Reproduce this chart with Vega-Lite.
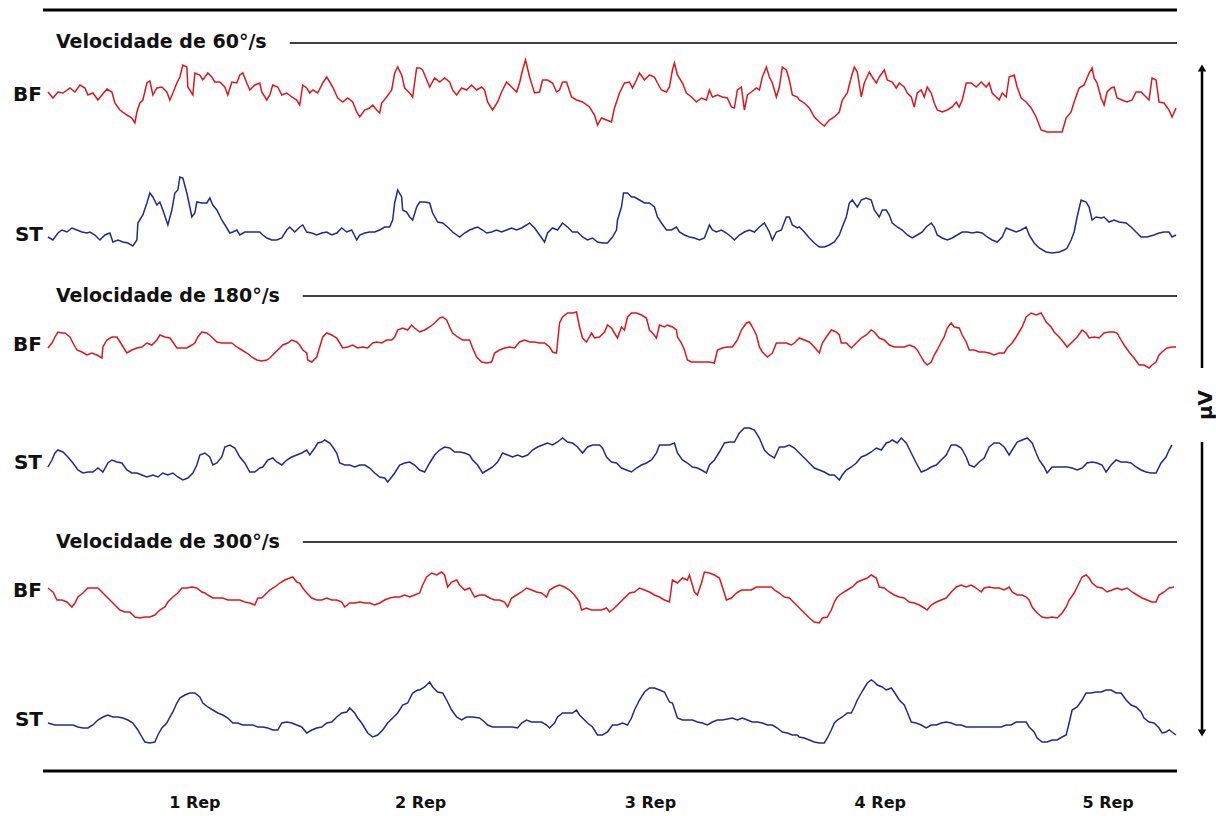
{
"$schema": "https://vega.github.io/schema/vega-lite/v6.json",
"width": 1216, "height": 816,
"autosize": {"type": "fit", "contains": "padding"},
"padding": 0,
"background": "white",
"config": {"view": {"stroke": null}},
"datasets": {
"bf60": [{"t":48,"v":92},{"t":53,"v":98},{"t":58,"v":92},{"t":63,"v":93},{"t":70,"v":88},{"t":75,"v":92},{"t":80,"v":85},{"t":85,"v":88},{"t":88,"v":95},{"t":93,"v":93},{"t":98,"v":100},{"t":102,"v":95},{"t":107,"v":89},{"t":112,"v":92},{"t":115,"v":103},{"t":120,"v":110},{"t":127,"v":115},{"t":132,"v":118},{"t":135,"v":123},{"t":137,"v":112},{"t":140,"v":103},{"t":143,"v":100},{"t":147,"v":83},{"t":150,"v":81},{"t":153,"v":95},{"t":157,"v":88},{"t":162,"v":87},{"t":167,"v":92},{"t":170,"v":100},{"t":173,"v":93},{"t":177,"v":83},{"t":180,"v":77},{"t":183,"v":65},{"t":187,"v":67},{"t":188,"v":87},{"t":193,"v":95},{"t":195,"v":73},{"t":200,"v":75},{"t":203,"v":80},{"t":208,"v":73},{"t":212,"v":77},{"t":215,"v":82},{"t":220,"v":82},{"t":225,"v":87},{"t":228,"v":95},{"t":232,"v":82},{"t":237,"v":83},{"t":240,"v":75},{"t":243,"v":73},{"t":247,"v":83},{"t":250,"v":90},{"t":255,"v":85},{"t":260,"v":83},{"t":262,"v":92},{"t":267,"v":100},{"t":270,"v":95},{"t":273,"v":85},{"t":278,"v":87},{"t":282,"v":95},{"t":287,"v":93},{"t":292,"v":97},{"t":297,"v":100},{"t":300,"v":105},{"t":303,"v":85},{"t":307,"v":88},{"t":310,"v":93},{"t":313,"v":90},{"t":318,"v":93},{"t":323,"v":83},{"t":327,"v":77},{"t":330,"v":82},{"t":333,"v":87},{"t":338,"v":98},{"t":343,"v":102},{"t":348,"v":98},{"t":353,"v":102},{"t":357,"v":112},{"t":360,"v":117},{"t":365,"v":110},{"t":370,"v":108},{"t":373,"v":105},{"t":377,"v":110},{"t":380,"v":113},{"t":382,"v":103},{"t":387,"v":97},{"t":392,"v":90},{"t":395,"v":73},{"t":398,"v":67},{"t":402,"v":75},{"t":405,"v":88},{"t":410,"v":93},{"t":413,"v":97},{"t":417,"v":68},{"t":420,"v":68},{"t":423,"v":70},{"t":430,"v":87},{"t":435,"v":78},{"t":440,"v":82},{"t":445,"v":78},{"t":450,"v":82},{"t":453,"v":90},{"t":457,"v":95},{"t":462,"v":88},{"t":467,"v":90},{"t":472,"v":85},{"t":477,"v":90},{"t":482,"v":87},{"t":485,"v":90},{"t":488,"v":102},{"t":493,"v":110},{"t":498,"v":102},{"t":502,"v":92},{"t":507,"v":82},{"t":512,"v":87},{"t":517,"v":92},{"t":520,"v":83},{"t":523,"v":70},{"t":526,"v":60},{"t":530,"v":77},{"t":535,"v":93},{"t":540,"v":92},{"t":543,"v":80},{"t":548,"v":80},{"t":553,"v":83},{"t":557,"v":92},{"t":560,"v":90},{"t":563,"v":82},{"t":567,"v":82},{"t":572,"v":97},{"t":577,"v":100},{"t":583,"v":102},{"t":590,"v":107},{"t":595,"v":115},{"t":598,"v":125},{"t":602,"v":118},{"t":607,"v":120},{"t":612,"v":122},{"t":615,"v":108},{"t":620,"v":93},{"t":625,"v":83},{"t":630,"v":82},{"t":633,"v":88},{"t":637,"v":80},{"t":640,"v":73},{"t":645,"v":80},{"t":650,"v":75},{"t":655,"v":77},{"t":658,"v":83},{"t":662,"v":90},{"t":667,"v":92},{"t":670,"v":87},{"t":673,"v":70},{"t":675,"v":63},{"t":678,"v":75},{"t":683,"v":83},{"t":687,"v":93},{"t":692,"v":97},{"t":697,"v":102},{"t":702,"v":98},{"t":707,"v":100},{"t":710,"v":90},{"t":713,"v":97},{"t":718,"v":95},{"t":723,"v":97},{"t":728,"v":98},{"t":732,"v":107},{"t":735,"v":108},{"t":738,"v":90},{"t":742,"v":87},{"t":745,"v":110},{"t":748,"v":95},{"t":752,"v":92},{"t":757,"v":88},{"t":760,"v":90},{"t":763,"v":77},{"t":767,"v":67},{"t":770,"v":77},{"t":773,"v":83},{"t":777,"v":97},{"t":780,"v":87},{"t":783,"v":67},{"t":787,"v":70},{"t":790,"v":80},{"t":793,"v":95},{"t":798,"v":97},{"t":800,"v":100},{"t":805,"v":103},{"t":810,"v":108},{"t":815,"v":117},{"t":820,"v":122},{"t":825,"v":126},{"t":830,"v":120},{"t":835,"v":117},{"t":840,"v":112},{"t":843,"v":100},{"t":848,"v":93},{"t":852,"v":77},{"t":855,"v":67},{"t":858,"v":72},{"t":862,"v":97},{"t":865,"v":83},{"t":870,"v":72},{"t":873,"v":77},{"t":877,"v":83},{"t":880,"v":77},{"t":885,"v":70},{"t":888,"v":80},{"t":893,"v":82},{"t":897,"v":88},{"t":900,"v":83},{"t":905,"v":87},{"t":908,"v":93},{"t":912,"v":97},{"t":915,"v":107},{"t":918,"v":93},{"t":922,"v":90},{"t":925,"v":97},{"t":928,"v":87},{"t":932,"v":93},{"t":935,"v":103},{"t":938,"v":110},{"t":943,"v":112},{"t":948,"v":110},{"t":953,"v":107},{"t":957,"v":102},{"t":960,"v":107},{"t":963,"v":100},{"t":967,"v":83},{"t":972,"v":83},{"t":977,"v":87},{"t":982,"v":82},{"t":987,"v":87},{"t":990,"v":83},{"t":993,"v":93},{"t":997,"v":97},{"t":1000,"v":100},{"t":1003,"v":93},{"t":1007,"v":97},{"t":1010,"v":77},{"t":1015,"v":75},{"t":1018,"v":87},{"t":1022,"v":98},{"t":1027,"v":102},{"t":1032,"v":108},{"t":1037,"v":117},{"t":1042,"v":130},{"t":1048,"v":132},{"t":1057,"v":132},{"t":1063,"v":132},{"t":1067,"v":118},{"t":1072,"v":112},{"t":1075,"v":102},{"t":1080,"v":88},{"t":1085,"v":85},{"t":1090,"v":73},{"t":1093,"v":68},{"t":1095,"v":78},{"t":1098,"v":83},{"t":1102,"v":98},{"t":1105,"v":105},{"t":1108,"v":92},{"t":1112,"v":88},{"t":1115,"v":87},{"t":1118,"v":98},{"t":1123,"v":100},{"t":1128,"v":102},{"t":1133,"v":100},{"t":1137,"v":92},{"t":1142,"v":92},{"t":1147,"v":97},{"t":1150,"v":100},{"t":1153,"v":78},{"t":1157,"v":80},{"t":1160,"v":102},{"t":1165,"v":103},{"t":1170,"v":110},{"t":1173,"v":117},{"t":1177,"v":108}],
"st60": [{"t":48,"v":237},{"t":53,"v":240},{"t":58,"v":233},{"t":62,"v":230},{"t":67,"v":232},{"t":72,"v":228},{"t":77,"v":230},{"t":82,"v":232},{"t":87,"v":233},{"t":90,"v":232},{"t":95,"v":235},{"t":100,"v":240},{"t":105,"v":235},{"t":110,"v":233},{"t":113,"v":242},{"t":118,"v":240},{"t":123,"v":242},{"t":128,"v":243},{"t":133,"v":246},{"t":137,"v":240},{"t":138,"v":223},{"t":143,"v":215},{"t":147,"v":203},{"t":150,"v":193},{"t":153,"v":197},{"t":157,"v":205},{"t":160,"v":202},{"t":163,"v":210},{"t":168,"v":225},{"t":172,"v":210},{"t":175,"v":193},{"t":178,"v":190},{"t":180,"v":177},{"t":183,"v":178},{"t":187,"v":193},{"t":190,"v":207},{"t":192,"v":217},{"t":195,"v":213},{"t":197,"v":202},{"t":202,"v":203},{"t":207,"v":203},{"t":210,"v":198},{"t":213,"v":205},{"t":217,"v":210},{"t":222,"v":220},{"t":227,"v":228},{"t":230,"v":233},{"t":233,"v":232},{"t":237,"v":230},{"t":240,"v":235},{"t":245,"v":232},{"t":252,"v":232},{"t":260,"v":232},{"t":263,"v":235},{"t":267,"v":238},{"t":272,"v":240},{"t":277,"v":240},{"t":282,"v":238},{"t":287,"v":230},{"t":290,"v":227},{"t":295,"v":232},{"t":300,"v":227},{"t":303,"v":225},{"t":307,"v":232},{"t":312,"v":233},{"t":317,"v":235},{"t":322,"v":233},{"t":327,"v":232},{"t":332,"v":235},{"t":337,"v":233},{"t":342,"v":228},{"t":347,"v":232},{"t":352,"v":230},{"t":357,"v":240},{"t":360,"v":235},{"t":365,"v":233},{"t":370,"v":232},{"t":375,"v":232},{"t":380,"v":230},{"t":385,"v":227},{"t":390,"v":227},{"t":393,"v":220},{"t":395,"v":203},{"t":398,"v":190},{"t":402,"v":197},{"t":403,"v":210},{"t":407,"v":212},{"t":410,"v":217},{"t":413,"v":220},{"t":417,"v":207},{"t":420,"v":202},{"t":425,"v":202},{"t":430,"v":203},{"t":433,"v":213},{"t":438,"v":222},{"t":443,"v":223},{"t":448,"v":227},{"t":453,"v":232},{"t":460,"v":237},{"t":465,"v":233},{"t":470,"v":230},{"t":475,"v":228},{"t":478,"v":227},{"t":483,"v":230},{"t":487,"v":233},{"t":492,"v":232},{"t":497,"v":230},{"t":502,"v":232},{"t":507,"v":230},{"t":512,"v":228},{"t":517,"v":230},{"t":522,"v":228},{"t":527,"v":225},{"t":530,"v":223},{"t":535,"v":228},{"t":540,"v":235},{"t":545,"v":242},{"t":548,"v":233},{"t":553,"v":228},{"t":558,"v":230},{"t":563,"v":223},{"t":568,"v":227},{"t":573,"v":232},{"t":578,"v":232},{"t":583,"v":237},{"t":588,"v":240},{"t":593,"v":238},{"t":598,"v":242},{"t":603,"v":243},{"t":608,"v":243},{"t":613,"v":237},{"t":617,"v":230},{"t":618,"v":220},{"t":622,"v":207},{"t":624,"v":193},{"t":628,"v":193},{"t":632,"v":197},{"t":635,"v":197},{"t":640,"v":200},{"t":645,"v":203},{"t":650,"v":203},{"t":655,"v":207},{"t":658,"v":217},{"t":662,"v":223},{"t":667,"v":230},{"t":672,"v":230},{"t":677,"v":227},{"t":680,"v":232},{"t":685,"v":235},{"t":690,"v":237},{"t":695,"v":238},{"t":700,"v":240},{"t":705,"v":238},{"t":710,"v":225},{"t":713,"v":230},{"t":717,"v":232},{"t":722,"v":230},{"t":727,"v":233},{"t":732,"v":237},{"t":735,"v":240},{"t":740,"v":235},{"t":745,"v":232},{"t":750,"v":230},{"t":755,"v":232},{"t":760,"v":227},{"t":765,"v":223},{"t":770,"v":232},{"t":773,"v":240},{"t":777,"v":232},{"t":782,"v":230},{"t":787,"v":217},{"t":790,"v":217},{"t":793,"v":225},{"t":798,"v":228},{"t":800,"v":227},{"t":805,"v":232},{"t":810,"v":238},{"t":815,"v":243},{"t":820,"v":247},{"t":825,"v":247},{"t":830,"v":245},{"t":835,"v":242},{"t":840,"v":235},{"t":843,"v":227},{"t":847,"v":217},{"t":850,"v":203},{"t":853,"v":200},{"t":858,"v":207},{"t":862,"v":200},{"t":867,"v":198},{"t":872,"v":200},{"t":875,"v":210},{"t":880,"v":217},{"t":883,"v":210},{"t":887,"v":210},{"t":890,"v":215},{"t":893,"v":223},{"t":898,"v":227},{"t":903,"v":230},{"t":908,"v":235},{"t":913,"v":238},{"t":918,"v":235},{"t":923,"v":232},{"t":927,"v":227},{"t":932,"v":223},{"t":935,"v":227},{"t":938,"v":235},{"t":943,"v":238},{"t":948,"v":240},{"t":953,"v":238},{"t":958,"v":235},{"t":963,"v":232},{"t":968,"v":232},{"t":973,"v":233},{"t":978,"v":232},{"t":983,"v":233},{"t":988,"v":237},{"t":993,"v":240},{"t":998,"v":242},{"t":1003,"v":237},{"t":1007,"v":228},{"t":1012,"v":230},{"t":1017,"v":232},{"t":1022,"v":230},{"t":1027,"v":227},{"t":1030,"v":235},{"t":1035,"v":243},{"t":1040,"v":248},{"t":1047,"v":252},{"t":1053,"v":253},{"t":1060,"v":252},{"t":1065,"v":250},{"t":1068,"v":248},{"t":1072,"v":240},{"t":1075,"v":232},{"t":1078,"v":217},{"t":1082,"v":200},{"t":1087,"v":202},{"t":1090,"v":207},{"t":1093,"v":220},{"t":1097,"v":217},{"t":1102,"v":218},{"t":1105,"v":217},{"t":1110,"v":222},{"t":1115,"v":220},{"t":1120,"v":222},{"t":1127,"v":223},{"t":1132,"v":227},{"t":1137,"v":232},{"t":1142,"v":237},{"t":1148,"v":237},{"t":1155,"v":235},{"t":1160,"v":233},{"t":1165,"v":232},{"t":1170,"v":232},{"t":1173,"v":237},{"t":1177,"v":235}],
"bf180": [{"t":48,"v":348},{"t":52,"v":343},{"t":55,"v":337},{"t":58,"v":332},{"t":62,"v":333},{"t":65,"v":333},{"t":70,"v":337},{"t":73,"v":343},{"t":77,"v":350},{"t":82,"v":352},{"t":87,"v":355},{"t":92,"v":353},{"t":97,"v":355},{"t":102,"v":358},{"t":103,"v":347},{"t":107,"v":340},{"t":112,"v":337},{"t":117,"v":337},{"t":122,"v":345},{"t":127,"v":353},{"t":132,"v":350},{"t":137,"v":348},{"t":142,"v":347},{"t":147,"v":343},{"t":152,"v":345},{"t":157,"v":340},{"t":160,"v":335},{"t":165,"v":337},{"t":170,"v":338},{"t":173,"v":342},{"t":177,"v":348},{"t":182,"v":348},{"t":187,"v":348},{"t":192,"v":345},{"t":195,"v":343},{"t":198,"v":337},{"t":202,"v":332},{"t":207,"v":333},{"t":212,"v":337},{"t":217,"v":342},{"t":222,"v":343},{"t":227,"v":343},{"t":232,"v":343},{"t":237,"v":347},{"t":242,"v":350},{"t":247,"v":353},{"t":252,"v":357},{"t":257,"v":360},{"t":262,"v":361},{"t":267,"v":360},{"t":270,"v":358},{"t":273,"v":355},{"t":278,"v":350},{"t":283,"v":345},{"t":288,"v":343},{"t":292,"v":340},{"t":297,"v":342},{"t":300,"v":345},{"t":303,"v":350},{"t":307,"v":353},{"t":308,"v":360},{"t":312,"v":362},{"t":317,"v":357},{"t":320,"v":347},{"t":323,"v":337},{"t":327,"v":333},{"t":332,"v":335},{"t":337,"v":338},{"t":340,"v":343},{"t":343,"v":348},{"t":348,"v":347},{"t":353,"v":345},{"t":358,"v":348},{"t":363,"v":347},{"t":368,"v":348},{"t":373,"v":343},{"t":377,"v":342},{"t":382,"v":343},{"t":387,"v":340},{"t":392,"v":340},{"t":395,"v":337},{"t":398,"v":330},{"t":403,"v":328},{"t":408,"v":330},{"t":412,"v":325},{"t":415,"v":328},{"t":420,"v":332},{"t":425,"v":330},{"t":430,"v":327},{"t":435,"v":323},{"t":440,"v":318},{"t":443,"v":317},{"t":447,"v":320},{"t":450,"v":327},{"t":453,"v":333},{"t":458,"v":337},{"t":463,"v":340},{"t":470,"v":340},{"t":473,"v":348},{"t":477,"v":357},{"t":482,"v":362},{"t":487,"v":363},{"t":492,"v":362},{"t":495,"v":353},{"t":500,"v":350},{"t":505,"v":348},{"t":510,"v":347},{"t":515,"v":348},{"t":520,"v":342},{"t":525,"v":340},{"t":530,"v":342},{"t":535,"v":342},{"t":540,"v":343},{"t":545,"v":343},{"t":550,"v":347},{"t":553,"v":352},{"t":557,"v":353},{"t":560,"v":323},{"t":563,"v":317},{"t":568,"v":313},{"t":573,"v":313},{"t":577,"v":312},{"t":580,"v":327},{"t":583,"v":338},{"t":587,"v":342},{"t":592,"v":333},{"t":595,"v":338},{"t":600,"v":337},{"t":605,"v":332},{"t":608,"v":325},{"t":612,"v":328},{"t":615,"v":333},{"t":618,"v":338},{"t":622,"v":327},{"t":625,"v":330},{"t":628,"v":317},{"t":632,"v":313},{"t":637,"v":313},{"t":642,"v":315},{"t":647,"v":318},{"t":650,"v":330},{"t":653,"v":333},{"t":657,"v":338},{"t":660,"v":325},{"t":665,"v":327},{"t":668,"v":325},{"t":673,"v":327},{"t":677,"v":330},{"t":678,"v":337},{"t":682,"v":343},{"t":685,"v":350},{"t":688,"v":360},{"t":692,"v":362},{"t":697,"v":362},{"t":703,"v":362},{"t":710,"v":362},{"t":715,"v":363},{"t":718,"v":350},{"t":723,"v":348},{"t":728,"v":347},{"t":733,"v":347},{"t":738,"v":340},{"t":742,"v":330},{"t":747,"v":323},{"t":750,"v":322},{"t":753,"v":327},{"t":757,"v":335},{"t":760,"v":347},{"t":763,"v":352},{"t":768,"v":357},{"t":773,"v":353},{"t":777,"v":343},{"t":782,"v":343},{"t":787,"v":343},{"t":792,"v":345},{"t":795,"v":343},{"t":800,"v":338},{"t":805,"v":340},{"t":810,"v":342},{"t":815,"v":347},{"t":820,"v":353},{"t":823,"v":343},{"t":827,"v":337},{"t":832,"v":330},{"t":837,"v":332},{"t":840,"v":335},{"t":842,"v":343},{"t":847,"v":343},{"t":852,"v":348},{"t":857,"v":343},{"t":862,"v":338},{"t":867,"v":335},{"t":872,"v":330},{"t":875,"v":332},{"t":880,"v":338},{"t":885,"v":340},{"t":890,"v":345},{"t":895,"v":347},{"t":900,"v":347},{"t":905,"v":347},{"t":910,"v":345},{"t":915,"v":347},{"t":918,"v":350},{"t":922,"v":357},{"t":925,"v":362},{"t":928,"v":365},{"t":932,"v":362},{"t":935,"v":355},{"t":938,"v":350},{"t":942,"v":342},{"t":945,"v":337},{"t":948,"v":328},{"t":952,"v":323},{"t":955,"v":327},{"t":960,"v":328},{"t":963,"v":335},{"t":967,"v":342},{"t":970,"v":350},{"t":975,"v":350},{"t":980,"v":352},{"t":985,"v":352},{"t":990,"v":353},{"t":995,"v":355},{"t":1000,"v":353},{"t":1005,"v":353},{"t":1008,"v":348},{"t":1013,"v":343},{"t":1017,"v":337},{"t":1020,"v":332},{"t":1023,"v":327},{"t":1027,"v":317},{"t":1032,"v":313},{"t":1037,"v":315},{"t":1042,"v":313},{"t":1047,"v":322},{"t":1052,"v":327},{"t":1055,"v":332},{"t":1060,"v":337},{"t":1065,"v":343},{"t":1068,"v":347},{"t":1073,"v":342},{"t":1078,"v":337},{"t":1083,"v":330},{"t":1087,"v":333},{"t":1090,"v":338},{"t":1095,"v":337},{"t":1100,"v":338},{"t":1105,"v":333},{"t":1110,"v":332},{"t":1115,"v":332},{"t":1118,"v":333},{"t":1122,"v":340},{"t":1125,"v":345},{"t":1130,"v":352},{"t":1135,"v":358},{"t":1140,"v":365},{"t":1145,"v":365},{"t":1150,"v":368},{"t":1153,"v":365},{"t":1157,"v":362},{"t":1160,"v":355},{"t":1163,"v":352},{"t":1168,"v":348},{"t":1173,"v":347},{"t":1177,"v":347}],
"st180": [{"t":48,"v":467},{"t":52,"v":460},{"t":55,"v":453},{"t":58,"v":450},{"t":63,"v":452},{"t":68,"v":457},{"t":73,"v":463},{"t":78,"v":470},{"t":83,"v":473},{"t":88,"v":472},{"t":93,"v":472},{"t":98,"v":468},{"t":103,"v":472},{"t":108,"v":463},{"t":112,"v":460},{"t":117,"v":462},{"t":122,"v":463},{"t":127,"v":470},{"t":132,"v":473},{"t":137,"v":473},{"t":142,"v":475},{"t":147,"v":477},{"t":153,"v":475},{"t":158,"v":477},{"t":163,"v":473},{"t":168,"v":475},{"t":173,"v":473},{"t":178,"v":477},{"t":183,"v":480},{"t":188,"v":478},{"t":193,"v":473},{"t":197,"v":465},{"t":200,"v":455},{"t":205,"v":453},{"t":210,"v":457},{"t":213,"v":465},{"t":217,"v":463},{"t":222,"v":457},{"t":225,"v":447},{"t":230,"v":445},{"t":235,"v":448},{"t":240,"v":457},{"t":245,"v":463},{"t":250,"v":472},{"t":255,"v":472},{"t":260,"v":468},{"t":263,"v":467},{"t":268,"v":460},{"t":273,"v":458},{"t":277,"v":462},{"t":282,"v":465},{"t":287,"v":460},{"t":292,"v":457},{"t":297,"v":455},{"t":302,"v":453},{"t":307,"v":450},{"t":310,"v":455},{"t":315,"v":448},{"t":318,"v":443},{"t":322,"v":442},{"t":325,"v":440},{"t":330,"v":443},{"t":333,"v":447},{"t":337,"v":453},{"t":340,"v":463},{"t":345,"v":465},{"t":350,"v":465},{"t":355,"v":467},{"t":360,"v":465},{"t":365,"v":465},{"t":370,"v":468},{"t":375,"v":473},{"t":380,"v":477},{"t":385,"v":478},{"t":388,"v":482},{"t":392,"v":477},{"t":395,"v":473},{"t":400,"v":465},{"t":405,"v":463},{"t":410,"v":462},{"t":415,"v":465},{"t":420,"v":470},{"t":425,"v":472},{"t":430,"v":463},{"t":435,"v":455},{"t":440,"v":450},{"t":445,"v":447},{"t":450,"v":448},{"t":455,"v":452},{"t":460,"v":452},{"t":465,"v":453},{"t":470,"v":455},{"t":473,"v":460},{"t":478,"v":465},{"t":483,"v":473},{"t":488,"v":470},{"t":493,"v":467},{"t":498,"v":462},{"t":503,"v":453},{"t":508,"v":455},{"t":513,"v":457},{"t":518,"v":455},{"t":523,"v":457},{"t":528,"v":455},{"t":533,"v":450},{"t":538,"v":447},{"t":543,"v":445},{"t":548,"v":443},{"t":553,"v":445},{"t":558,"v":442},{"t":563,"v":438},{"t":568,"v":442},{"t":573,"v":443},{"t":578,"v":447},{"t":583,"v":453},{"t":588,"v":447},{"t":593,"v":445},{"t":600,"v":445},{"t":603,"v":448},{"t":607,"v":457},{"t":612,"v":462},{"t":617,"v":463},{"t":622,"v":468},{"t":627,"v":470},{"t":632,"v":472},{"t":637,"v":468},{"t":642,"v":465},{"t":647,"v":463},{"t":652,"v":460},{"t":657,"v":453},{"t":660,"v":445},{"t":665,"v":445},{"t":670,"v":445},{"t":675,"v":443},{"t":678,"v":453},{"t":683,"v":460},{"t":688,"v":463},{"t":693,"v":467},{"t":698,"v":468},{"t":702,"v":470},{"t":707,"v":473},{"t":710,"v":465},{"t":715,"v":460},{"t":720,"v":452},{"t":725,"v":443},{"t":730,"v":442},{"t":735,"v":442},{"t":740,"v":433},{"t":745,"v":428},{"t":750,"v":428},{"t":755,"v":430},{"t":760,"v":438},{"t":765,"v":450},{"t":770,"v":455},{"t":775,"v":458},{"t":780,"v":447},{"t":785,"v":447},{"t":790,"v":445},{"t":795,"v":448},{"t":800,"v":453},{"t":805,"v":458},{"t":810,"v":463},{"t":815,"v":468},{"t":820,"v":470},{"t":825,"v":472},{"t":830,"v":475},{"t":835,"v":475},{"t":840,"v":480},{"t":843,"v":475},{"t":847,"v":470},{"t":852,"v":467},{"t":857,"v":463},{"t":862,"v":457},{"t":867,"v":455},{"t":872,"v":452},{"t":877,"v":448},{"t":882,"v":450},{"t":887,"v":443},{"t":890,"v":442},{"t":893,"v":440},{"t":898,"v":443},{"t":902,"v":438},{"t":907,"v":443},{"t":912,"v":453},{"t":917,"v":463},{"t":922,"v":472},{"t":927,"v":470},{"t":932,"v":467},{"t":937,"v":465},{"t":942,"v":460},{"t":947,"v":455},{"t":952,"v":445},{"t":957,"v":445},{"t":962,"v":448},{"t":967,"v":457},{"t":970,"v":465},{"t":975,"v":467},{"t":980,"v":462},{"t":985,"v":458},{"t":990,"v":447},{"t":995,"v":443},{"t":1000,"v":443},{"t":1005,"v":447},{"t":1010,"v":455},{"t":1013,"v":450},{"t":1018,"v":442},{"t":1023,"v":440},{"t":1028,"v":438},{"t":1033,"v":443},{"t":1037,"v":453},{"t":1040,"v":460},{"t":1045,"v":467},{"t":1048,"v":473},{"t":1053,"v":467},{"t":1058,"v":467},{"t":1063,"v":467},{"t":1068,"v":467},{"t":1073,"v":468},{"t":1078,"v":470},{"t":1083,"v":468},{"t":1088,"v":463},{"t":1093,"v":462},{"t":1098,"v":463},{"t":1103,"v":465},{"t":1107,"v":472},{"t":1112,"v":465},{"t":1117,"v":460},{"t":1122,"v":462},{"t":1127,"v":462},{"t":1132,"v":463},{"t":1137,"v":467},{"t":1142,"v":470},{"t":1147,"v":472},{"t":1152,"v":473},{"t":1157,"v":473},{"t":1162,"v":463},{"t":1167,"v":457},{"t":1170,"v":450},{"t":1173,"v":445}],
"bf300": [{"t":48,"v":588},{"t":53,"v":592},{"t":57,"v":600},{"t":62,"v":600},{"t":67,"v":602},{"t":72,"v":607},{"t":75,"v":603},{"t":78,"v":597},{"t":83,"v":593},{"t":88,"v":588},{"t":93,"v":588},{"t":98,"v":588},{"t":103,"v":593},{"t":108,"v":598},{"t":113,"v":603},{"t":120,"v":610},{"t":125,"v":612},{"t":130,"v":612},{"t":135,"v":617},{"t":140,"v":618},{"t":145,"v":617},{"t":150,"v":617},{"t":155,"v":615},{"t":160,"v":610},{"t":165,"v":607},{"t":168,"v":602},{"t":173,"v":597},{"t":178,"v":593},{"t":182,"v":588},{"t":187,"v":588},{"t":192,"v":587},{"t":197,"v":588},{"t":202,"v":592},{"t":205,"v":593},{"t":208,"v":595},{"t":213,"v":598},{"t":218,"v":598},{"t":223,"v":598},{"t":228,"v":600},{"t":233,"v":600},{"t":240,"v":600},{"t":245,"v":602},{"t":250,"v":603},{"t":255,"v":605},{"t":258,"v":598},{"t":262,"v":598},{"t":265,"v":595},{"t":270,"v":590},{"t":275,"v":587},{"t":280,"v":583},{"t":285,"v":580},{"t":290,"v":578},{"t":293,"v":577},{"t":297,"v":582},{"t":300,"v":583},{"t":303,"v":588},{"t":307,"v":593},{"t":312,"v":598},{"t":317,"v":600},{"t":322,"v":600},{"t":327,"v":598},{"t":332,"v":600},{"t":337,"v":600},{"t":342,"v":602},{"t":345,"v":607},{"t":350,"v":603},{"t":355,"v":603},{"t":360,"v":602},{"t":365,"v":603},{"t":370,"v":603},{"t":375,"v":605},{"t":380,"v":603},{"t":385,"v":600},{"t":390,"v":598},{"t":395,"v":597},{"t":400,"v":597},{"t":405,"v":595},{"t":410,"v":597},{"t":415,"v":595},{"t":420,"v":593},{"t":423,"v":585},{"t":427,"v":577},{"t":432,"v":573},{"t":437,"v":575},{"t":442,"v":572},{"t":445,"v":575},{"t":448,"v":587},{"t":452,"v":582},{"t":457,"v":580},{"t":460,"v":585},{"t":465,"v":590},{"t":470,"v":588},{"t":475,"v":597},{"t":480,"v":595},{"t":485,"v":595},{"t":490,"v":598},{"t":495,"v":600},{"t":500,"v":600},{"t":505,"v":602},{"t":508,"v":607},{"t":512,"v":598},{"t":517,"v":595},{"t":522,"v":592},{"t":527,"v":588},{"t":532,"v":590},{"t":537,"v":592},{"t":542,"v":593},{"t":547,"v":597},{"t":550,"v":590},{"t":555,"v":587},{"t":560,"v":585},{"t":565,"v":587},{"t":570,"v":590},{"t":575,"v":595},{"t":580,"v":602},{"t":582,"v":610},{"t":587,"v":608},{"t":592,"v":610},{"t":597,"v":610},{"t":602,"v":610},{"t":607,"v":608},{"t":610,"v":612},{"t":615,"v":608},{"t":620,"v":603},{"t":625,"v":598},{"t":630,"v":593},{"t":635,"v":592},{"t":640,"v":588},{"t":645,"v":590},{"t":650,"v":592},{"t":655,"v":595},{"t":660,"v":597},{"t":665,"v":600},{"t":670,"v":602},{"t":673,"v":580},{"t":678,"v":583},{"t":683,"v":578},{"t":688,"v":580},{"t":690,"v":575},{"t":695,"v":592},{"t":698,"v":595},{"t":702,"v":583},{"t":705,"v":572},{"t":710,"v":573},{"t":715,"v":575},{"t":720,"v":578},{"t":723,"v":587},{"t":727,"v":600},{"t":732,"v":598},{"t":737,"v":593},{"t":742,"v":590},{"t":747,"v":590},{"t":752,"v":590},{"t":757,"v":587},{"t":762,"v":587},{"t":767,"v":587},{"t":772,"v":587},{"t":775,"v":590},{"t":780,"v":593},{"t":785,"v":597},{"t":790,"v":598},{"t":795,"v":603},{"t":800,"v":608},{"t":805,"v":613},{"t":810,"v":618},{"t":815,"v":622},{"t":820,"v":623},{"t":823,"v":618},{"t":828,"v":617},{"t":832,"v":610},{"t":835,"v":602},{"t":838,"v":597},{"t":843,"v":593},{"t":848,"v":590},{"t":853,"v":587},{"t":858,"v":582},{"t":863,"v":580},{"t":868,"v":578},{"t":872,"v":575},{"t":877,"v":578},{"t":880,"v":587},{"t":885,"v":588},{"t":890,"v":592},{"t":895,"v":595},{"t":900,"v":597},{"t":905,"v":598},{"t":910,"v":602},{"t":915,"v":603},{"t":920,"v":605},{"t":925,"v":608},{"t":928,"v":610},{"t":932,"v":605},{"t":937,"v":602},{"t":942,"v":600},{"t":947,"v":598},{"t":952,"v":592},{"t":957,"v":587},{"t":962,"v":585},{"t":967,"v":587},{"t":972,"v":585},{"t":977,"v":588},{"t":982,"v":592},{"t":985,"v":588},{"t":990,"v":587},{"t":995,"v":588},{"t":1000,"v":588},{"t":1005,"v":590},{"t":1010,"v":587},{"t":1013,"v":592},{"t":1018,"v":595},{"t":1023,"v":595},{"t":1027,"v":597},{"t":1030,"v":600},{"t":1033,"v":607},{"t":1038,"v":613},{"t":1043,"v":617},{"t":1048,"v":618},{"t":1053,"v":617},{"t":1058,"v":618},{"t":1063,"v":613},{"t":1067,"v":607},{"t":1070,"v":600},{"t":1075,"v":593},{"t":1080,"v":583},{"t":1083,"v":577},{"t":1087,"v":575},{"t":1090,"v":578},{"t":1093,"v":583},{"t":1098,"v":587},{"t":1103,"v":588},{"t":1108,"v":592},{"t":1113,"v":590},{"t":1118,"v":588},{"t":1123,"v":590},{"t":1128,"v":588},{"t":1133,"v":592},{"t":1138,"v":595},{"t":1143,"v":598},{"t":1148,"v":600},{"t":1153,"v":602},{"t":1157,"v":602},{"t":1160,"v":595},{"t":1165,"v":592},{"t":1170,"v":588},{"t":1175,"v":587}],
"st300": [{"t":48,"v":723},{"t":55,"v":725},{"t":62,"v":725},{"t":68,"v":725},{"t":73,"v":725},{"t":78,"v":727},{"t":83,"v":728},{"t":88,"v":728},{"t":93,"v":725},{"t":98,"v":720},{"t":103,"v":717},{"t":108,"v":715},{"t":113,"v":717},{"t":118,"v":717},{"t":123,"v":718},{"t":128,"v":720},{"t":133,"v":723},{"t":138,"v":730},{"t":142,"v":737},{"t":145,"v":742},{"t":150,"v":743},{"t":155,"v":742},{"t":158,"v":735},{"t":162,"v":728},{"t":167,"v":723},{"t":170,"v":717},{"t":173,"v":712},{"t":177,"v":703},{"t":180,"v":698},{"t":185,"v":695},{"t":190,"v":693},{"t":195,"v":693},{"t":200,"v":697},{"t":203,"v":703},{"t":208,"v":707},{"t":213,"v":710},{"t":218,"v":713},{"t":223,"v":715},{"t":228,"v":718},{"t":233,"v":723},{"t":238,"v":723},{"t":243,"v":725},{"t":248,"v":725},{"t":253,"v":725},{"t":258,"v":727},{"t":263,"v":727},{"t":268,"v":728},{"t":273,"v":730},{"t":278,"v":730},{"t":282,"v":723},{"t":287,"v":722},{"t":292,"v":723},{"t":297,"v":725},{"t":302,"v":727},{"t":307,"v":733},{"t":312,"v":730},{"t":317,"v":728},{"t":322,"v":727},{"t":327,"v":723},{"t":332,"v":722},{"t":337,"v":717},{"t":342,"v":713},{"t":347,"v":712},{"t":350,"v":708},{"t":355,"v":713},{"t":358,"v":718},{"t":362,"v":723},{"t":365,"v":728},{"t":368,"v":733},{"t":373,"v":737},{"t":378,"v":735},{"t":383,"v":730},{"t":388,"v":723},{"t":393,"v":718},{"t":398,"v":713},{"t":403,"v":705},{"t":408,"v":703},{"t":413,"v":693},{"t":418,"v":690},{"t":420,"v":690},{"t":425,"v":687},{"t":430,"v":682},{"t":433,"v":687},{"t":438,"v":692},{"t":443,"v":693},{"t":447,"v":700},{"t":452,"v":710},{"t":457,"v":717},{"t":462,"v":720},{"t":467,"v":717},{"t":473,"v":717},{"t":480,"v":718},{"t":485,"v":722},{"t":488,"v":725},{"t":493,"v":727},{"t":500,"v":727},{"t":507,"v":727},{"t":513,"v":727},{"t":518,"v":728},{"t":522,"v":723},{"t":527,"v":720},{"t":532,"v":722},{"t":537,"v":722},{"t":542,"v":722},{"t":547,"v":725},{"t":550,"v":728},{"t":555,"v":723},{"t":558,"v":717},{"t":563,"v":713},{"t":568,"v":713},{"t":573,"v":713},{"t":577,"v":710},{"t":580,"v":715},{"t":585,"v":720},{"t":588,"v":723},{"t":593,"v":727},{"t":598,"v":735},{"t":603,"v":735},{"t":608,"v":732},{"t":613,"v":725},{"t":618,"v":725},{"t":623,"v":723},{"t":628,"v":725},{"t":632,"v":718},{"t":635,"v":710},{"t":640,"v":700},{"t":645,"v":692},{"t":650,"v":688},{"t":655,"v":688},{"t":660,"v":690},{"t":665,"v":692},{"t":670,"v":702},{"t":673,"v":703},{"t":678,"v":718},{"t":683,"v":720},{"t":688,"v":720},{"t":693,"v":720},{"t":698,"v":722},{"t":703,"v":723},{"t":708,"v":725},{"t":713,"v":722},{"t":718,"v":720},{"t":723,"v":720},{"t":728,"v":719},{"t":733,"v":718},{"t":738,"v":720},{"t":743,"v":718},{"t":748,"v":720},{"t":753,"v":722},{"t":758,"v":722},{"t":763,"v":723},{"t":768,"v":725},{"t":773,"v":725},{"t":778,"v":728},{"t":783,"v":732},{"t":788,"v":733},{"t":793,"v":735},{"t":798,"v":735},{"t":800,"v":737},{"t":805,"v":738},{"t":810,"v":740},{"t":815,"v":742},{"t":820,"v":743},{"t":825,"v":743},{"t":828,"v":738},{"t":832,"v":730},{"t":835,"v":723},{"t":838,"v":720},{"t":843,"v":717},{"t":848,"v":713},{"t":852,"v":713},{"t":855,"v":707},{"t":858,"v":700},{"t":862,"v":693},{"t":865,"v":688},{"t":868,"v":683},{"t":872,"v":680},{"t":875,"v":682},{"t":878,"v":685},{"t":883,"v":687},{"t":887,"v":690},{"t":892,"v":688},{"t":895,"v":692},{"t":900,"v":700},{"t":905,"v":705},{"t":908,"v":712},{"t":912,"v":722},{"t":917,"v":723},{"t":922,"v":725},{"t":927,"v":728},{"t":932,"v":725},{"t":937,"v":725},{"t":942,"v":723},{"t":947,"v":722},{"t":952,"v":723},{"t":957,"v":725},{"t":962,"v":725},{"t":967,"v":727},{"t":972,"v":727},{"t":977,"v":727},{"t":982,"v":727},{"t":987,"v":727},{"t":992,"v":727},{"t":997,"v":727},{"t":1002,"v":727},{"t":1007,"v":725},{"t":1012,"v":725},{"t":1017,"v":722},{"t":1022,"v":722},{"t":1027,"v":722},{"t":1030,"v":727},{"t":1035,"v":732},{"t":1038,"v":738},{"t":1043,"v":742},{"t":1048,"v":742},{"t":1053,"v":740},{"t":1058,"v":740},{"t":1063,"v":737},{"t":1067,"v":735},{"t":1070,"v":723},{"t":1073,"v":710},{"t":1078,"v":707},{"t":1083,"v":700},{"t":1087,"v":693},{"t":1092,"v":693},{"t":1097,"v":692},{"t":1102,"v":692},{"t":1107,"v":690},{"t":1112,"v":690},{"t":1117,"v":693},{"t":1122,"v":693},{"t":1127,"v":700},{"t":1132,"v":705},{"t":1137,"v":707},{"t":1142,"v":712},{"t":1145,"v":718},{"t":1150,"v":722},{"t":1155,"v":723},{"t":1160,"v":728},{"t":1163,"v":733},{"t":1167,"v":732},{"t":1170,"v":730},{"t":1173,"v":732},{"t":1177,"v":735}],
"frame": [{"t":43,"t2":1178,"v":10,"v2":10},{"t":43,"t2":1178,"v":771,"v2":771}],
"sections": [{"t":290,"t2":1178,"v":43,"v2":43},{"t":303,"t2":1178,"v":296,"v2":296},{"t":303,"t2":1178,"v":542,"v2":542}],
"arrowlines": [{"t":1203,"t2":1203,"v":68,"v2":368},{"t":1203,"t2":1203,"v":442,"v2":732}],
"arrowup": [{"t":1203,"v":68}],
"arrowdown": [{"t":1203,"v":733}],
"titles": [{"t":56,"v":42,"label":"Velocidade de 60°/s"},{"t":56,"v":296,"label":"Velocidade de 180°/s"},{"t":56,"v":542,"label":"Velocidade de 300°/s"}],
"muscles": [{"t":42,"v":95,"label":"BF"},{"t":43,"v":235,"label":"ST"},{"t":42,"v":345,"label":"BF"},{"t":42,"v":463,"label":"ST"},{"t":42,"v":591,"label":"BF"},{"t":43,"v":720,"label":"ST"}],
"reps": [{"t":195,"v":803,"label":"1 Rep"},{"t":421,"v":803,"label":"2 Rep"},{"t":651,"v":803,"label":"3 Rep"},{"t":881,"v":803,"label":"4 Rep"},{"t":1109,"v":803,"label":"5 Rep"}],
"unit": [{"t":1207,"v":405,"label":"µV"}]
},
"encoding": {
"x": {"field": "t", "type": "quantitative", "scale": {"domain": [0, 1216], "nice": false, "zero": false}, "axis": null},
"y": {"field": "v", "type": "quantitative", "scale": {"domain": [816, 0], "nice": false, "zero": false}, "axis": null}
},
"layer": [
{"data": {"name": "frame"}, "mark": {"type": "rule", "color": "#000000", "strokeWidth": 3}, "encoding": {"x2": {"field": "t2"}, "y2": {"field": "v2"}}},
{"data": {"name": "sections"}, "mark": {"type": "rule", "color": "#000000", "strokeWidth": 1.3}, "encoding": {"x2": {"field": "t2"}, "y2": {"field": "v2"}}},
{"data": {"name": "arrowlines"}, "mark": {"type": "rule", "color": "#000000", "strokeWidth": 2.5}, "encoding": {"x2": {"field": "t2"}, "y2": {"field": "v2"}}},
{"data": {"name": "arrowup"}, "mark": {"type": "point", "shape": "triangle-up", "filled": true, "color": "#000000", "size": 70, "opacity": 1}},
{"data": {"name": "arrowdown"}, "mark": {"type": "point", "shape": "triangle-down", "filled": true, "color": "#000000", "size": 70, "opacity": 1}},
{"data": {"name": "bf60"}, "mark": {"type": "line", "color": "#e0161d", "strokeWidth": 1.5}},
{"data": {"name": "st60"}, "mark": {"type": "line", "color": "#1f2b8f", "strokeWidth": 1.5}},
{"data": {"name": "bf180"}, "mark": {"type": "line", "color": "#e0161d", "strokeWidth": 1.5}},
{"data": {"name": "st180"}, "mark": {"type": "line", "color": "#1f2b8f", "strokeWidth": 1.5}},
{"data": {"name": "bf300"}, "mark": {"type": "line", "color": "#e0161d", "strokeWidth": 1.5}},
{"data": {"name": "st300"}, "mark": {"type": "line", "color": "#1f2b8f", "strokeWidth": 1.5}},
{"data": {"name": "titles"}, "mark": {"type": "text", "align": "left", "baseline": "middle", "font": "DejaVu Sans", "fontWeight": "bold", "fontSize": 19, "color": "#111111"}, "encoding": {"text": {"field": "label"}}},
{"data": {"name": "muscles"}, "mark": {"type": "text", "align": "right", "baseline": "middle", "font": "DejaVu Sans", "fontWeight": "bold", "fontSize": 20, "color": "#111111"}, "encoding": {"text": {"field": "label"}}},
{"data": {"name": "reps"}, "mark": {"type": "text", "align": "center", "baseline": "middle", "font": "DejaVu Sans", "fontWeight": "bold", "fontSize": 16, "color": "#111111"}, "encoding": {"text": {"field": "label"}}},
{"data": {"name": "unit"}, "mark": {"type": "text", "align": "center", "baseline": "middle", "angle": 270, "font": "DejaVu Sans", "fontWeight": "bold", "fontSize": 20, "color": "#111111"}, "encoding": {"text": {"field": "label"}}}
]
}
